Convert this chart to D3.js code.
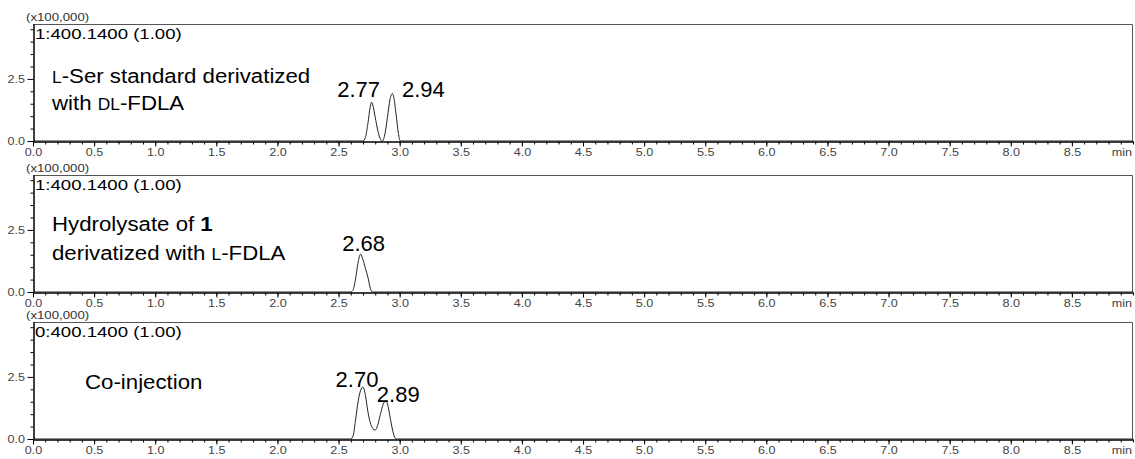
<!DOCTYPE html>
<html>
<head>
<meta charset="utf-8">
<script src="https://cdn.jsdelivr.net/npm/d3@7"></script>
<style>
  html, body { margin: 0; padding: 0; background: #fff; }
  svg { display: block; font-family: "Liberation Sans", Arial, sans-serif; }
</style>
</head>
<body>
<svg id="chart" width="1135" height="459"></svg>
<script>
// ---- Axis ticks and labels ----
const xMajorTicks = [0.0, 0.5, 1.0, 1.5, 2.0, 2.5, 3.0, 3.5, 4.0, 4.5, 5.0, 5.5, 6.0, 6.5, 7.0, 7.5, 8.0, 8.5];
const xTickLabels = ["0.0", "0.5", "1.0", "1.5", "2.0", "2.5", "3.0", "3.5", "4.0", "4.5", "5.0", "5.5", "6.0", "6.5", "7.0", "7.5", "8.0", "8.5"];
const xMinorTicks = d3.range(0, 91).map(i => i / 10);
const yMajorTicks = [0.0, 2.5];
const yTickLabels = ["0.0", "2.5"];
const yMinorTicks = [0.5, 1.0, 1.5, 2.0, 3.0, 3.5, 4.0, 4.5];
const xUnitLabel = "min";
const yScaleLabel = "(x100,000)";
const channelLabels = ["1:400.1400 (1.00)", "1:400.1400 (1.00)", "0:400.1400 (1.00)"];

// ---- Extracted-ion chromatograms: [retention time (min), intensity (x100,000)] ----
const traceStandard = [
  [0.00, 0], [2.70, 0], [2.72, 0.15], [2.74, 0.70], [2.76, 1.40], [2.77, 1.56], [2.78, 1.45],
  [2.80, 0.95], [2.82, 0.45], [2.84, 0.10], [2.855, 0], [2.86, 0], [2.88, 0.30], [2.90, 0.95],
  [2.92, 1.65], [2.94, 1.91], [2.95, 1.80], [2.97, 1.10], [2.99, 0.30], [3.005, 0], [9.00, 0]
];
const traceHydrolysate = [
  [0.00, 0], [2.60, 0], [2.62, 0.10], [2.64, 0.55], [2.66, 1.20], [2.68, 1.52], [2.70, 1.30],
  [2.72, 0.95], [2.74, 0.60], [2.76, 0.15], [2.775, 0], [9.00, 0]
];
const traceCoinjection = [
  [0.00, 0], [2.60, 0], [2.62, 0.15], [2.64, 0.80], [2.66, 1.50], [2.68, 1.95], [2.70, 2.09],
  [2.72, 1.75], [2.74, 1.10], [2.76, 0.65], [2.78, 0.42], [2.80, 0.36], [2.82, 0.55], [2.84, 0.95],
  [2.87, 1.45], [2.89, 1.53], [2.91, 1.20], [2.93, 0.65], [2.95, 0.20], [2.97, 0], [9.00, 0]
];

// ---- Labelled peaks: retention time and apex height ----
const peaksStandard = [{ rt: 2.77, h: 1.56 }, { rt: 2.94, h: 1.91 }];
const peaksHydrolysate = [{ rt: 2.68, h: 1.52 }];
const peaksCoinjection = [{ rt: 2.70, h: 2.09 }, { rt: 2.89, h: 1.53 }];

// ---- Sample descriptions (sc = small capitals, b = bold) ----
const descStandard = [
  [{ t: "L", sc: true }, { t: "-Ser standard derivatized" }],
  [{ t: "with " }, { t: "DL", sc: true }, { t: "-FDLA" }]
];
const descHydrolysate = [
  [{ t: "Hydrolysate of " }, { t: "1", b: true }],
  [{ t: "derivatized with " }, { t: "L", sc: true }, { t: "-FDLA" }]
];
const descCoinjection = [
  [{ t: "Co-injection" }]
];

// ---- Layout ----
const xLeft = 33, xRight = 1133;
const panelHeight = 117;
const panels = [
  { bottom: 141, trace: traceStandard, peaks: peaksStandard, channel: channelLabels[0],
    desc: descStandard, descX: 52, descY: [-58, -31], peakOffsets: [[-13, -5], [31, 3]] },
  { bottom: 292, trace: traceHydrolysate, peaks: peaksHydrolysate, channel: channelLabels[1],
    desc: descHydrolysate, descX: 52, descY: [-61, -32], peakOffsets: [[3, -3]] },
  { bottom: 439, trace: traceCoinjection, peaks: peaksCoinjection, channel: channelLabels[2],
    desc: descCoinjection, descX: 85, descY: [-50], peakOffsets: [[-6, 0], [12, 1]] }
];

const svg = d3.select("#chart");
const x = d3.scaleLinear().domain([0, 9]).range([xLeft, xRight]);

// Text drawn with a horizontal stretch factor
function stretchText(parent, px, py, opts) {
  const g = parent.append("g")
    .attr("transform", `translate(${px},${py}) scale(${opts.sx || 1},1)`);
  const t = g.append("text")
    .attr("text-anchor", opts.anchor || "start")
    .attr("font-size", opts.size)
    .attr("fill", opts.color || "#000");
  if (opts.segments) {
    opts.segments.forEach(s => {
      const ts = t.append("tspan").text(s.t);
      if (s.sc) ts.attr("font-size", opts.size * 0.78);
      if (s.b) ts.attr("font-weight", "bold");
    });
  } else {
    t.text(opts.text);
  }
  return t;
}

const TICK_SX = 1.2;
const TICK_SIZE = 10.5;

panels.forEach(p => {
  const top = p.bottom - panelHeight;
  const y = d3.scaleLinear().domain([0, 4.71]).range([p.bottom, top]);
  const g = svg.append("g");

  // top and right frame
  g.append("path")
    .attr("d", `M${xLeft},${top + 0.5}H${xRight - 0.5}V${p.bottom}`)
    .attr("fill", "none").attr("stroke", "#555").attr("stroke-width", 1);

  // x axis: minor then major ticks
  const xMinor = d3.axisBottom(x).tickValues(xMinorTicks).tickSize(3).tickSizeOuter(0).tickFormat("");
  const xMajor = d3.axisBottom(x).tickValues(xMajorTicks).tickSize(5).tickSizeOuter(0)
    .tickFormat((d, i) => xTickLabels[i]).tickPadding(2);
  const gxMinor = g.append("g").attr("transform", `translate(0,${p.bottom + 0.5})`).call(xMinor);
  const gxMajor = g.append("g").attr("transform", `translate(0,${p.bottom + 0.5})`).call(xMajor);
  [gxMinor, gxMajor].forEach(ax => {
    ax.select(".domain").attr("stroke", "#000");
    ax.selectAll(".tick line").attr("stroke", "#000");
  });
  gxMajor.selectAll(".tick text")
    .attr("font-size", TICK_SIZE).attr("fill", "#444")
    .attr("font-family", "Liberation Sans, Arial, sans-serif")
    .attr("transform", `scale(${TICK_SX},1)`);

  stretchText(g, xRight - 1, p.bottom + 15, { text: xUnitLabel, size: TICK_SIZE, color: "#444", anchor: "end", sx: TICK_SX });

  // y axis: minor then major ticks
  const yMinor = d3.axisLeft(y).tickValues(yMinorTicks).tickSize(3).tickSizeOuter(0).tickFormat("");
  const yMajor = d3.axisLeft(y).tickValues(yMajorTicks).tickSize(6).tickSizeOuter(0)
    .tickFormat((d, i) => yTickLabels[i]).tickPadding(1);
  const gyMinor = g.append("g").attr("transform", `translate(${xLeft + 0.5},0)`).call(yMinor);
  const gyMajor = g.append("g").attr("transform", `translate(${xLeft + 0.5},0)`).call(yMajor);
  [gyMinor, gyMajor].forEach(ax => {
    ax.select(".domain").attr("stroke", "#000");
    ax.selectAll(".tick line").attr("stroke", "#000");
  });
  gyMajor.selectAll(".tick text")
    .attr("font-size", TICK_SIZE).attr("fill", "#444")
    .attr("font-family", "Liberation Sans, Arial, sans-serif")
    .attr("transform", `scale(${TICK_SX},1)`);

  // chromatogram trace
  const line = d3.line().x(d => x(d[0])).y(d => y(d[1])).curve(d3.curveMonotoneX);
  g.append("path").datum(p.trace)
    .attr("d", line)
    .attr("fill", "none").attr("stroke", "#222").attr("stroke-width", 1);

  // intensity multiplier and channel labels
  stretchText(g, 26, top - 3, { text: yScaleLabel, size: 10.5, color: "#333", sx: 1.26 });
  stretchText(g, 35, top + 14.5, { text: p.channel, size: 15, color: "#000", sx: 1.24 });

  // sample description
  p.desc.forEach((ln, i) => {
    stretchText(g, p.descX, p.bottom + p.descY[i], { segments: ln, size: 21, color: "#000", sx: 1.06 });
  });

  // peak retention time labels
  p.peaks.forEach((pk, i) => {
    const off = p.peakOffsets[i];
    stretchText(g, x(pk.rt) + off[0], y(pk.h) + off[1],
      { text: pk.rt.toFixed(2), size: 22, color: "#000", anchor: "middle", sx: 1.0 });
  });
});
</script>
</body>
</html>
